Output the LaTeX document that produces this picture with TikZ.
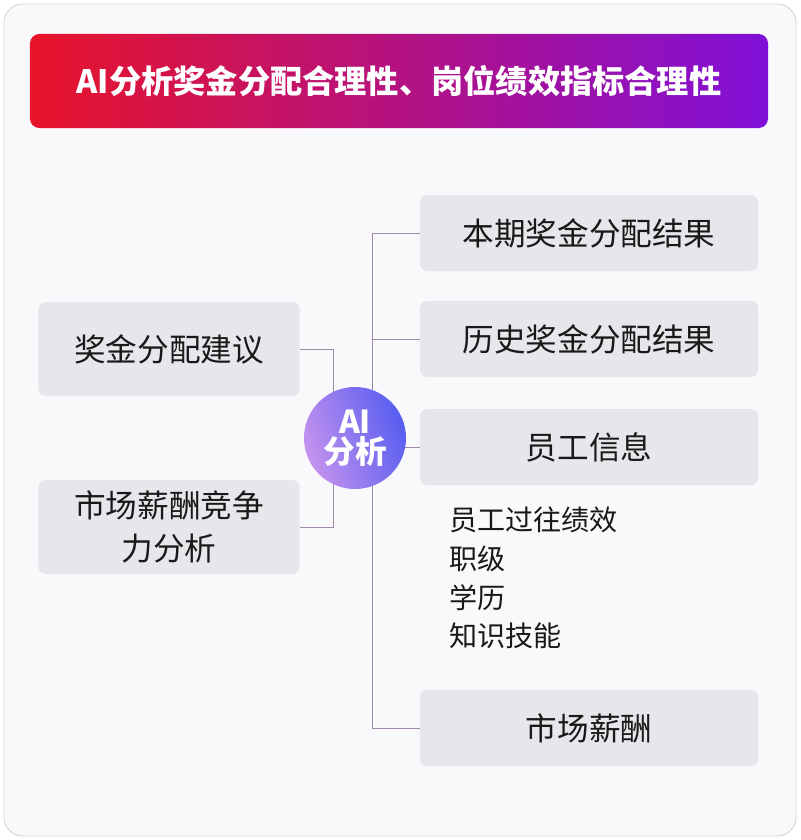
\documentclass[tikz,border=0pt]{standalone}
\usepackage{fontspec}
\setmainfont{Noto Sans CJK SC}
\usepackage{xcolor}
\usetikzlibrary{positioning, calc}

\definecolor{bgWhite}{HTML}{F9F9FC}
\definecolor{frameGray}{HTML}{D6D6DC}
\definecolor{boxGray}{HTML}{E6E7EB}
\definecolor{linkPurple}{HTML}{A08AAE}
\definecolor{titleRed}{HTML}{E8142A}
\definecolor{titleMag}{HTML}{D4148C}
\definecolor{titlePurple}{HTML}{8010D8}
\definecolor{aiLight}{HTML}{C492EE}
\definecolor{aiDark}{HTML}{575EF0}

\begin{document}
\begin{tikzpicture}[
    x=0.03cm, y=-0.03cm,
    frame/.style={draw=frameGray, line width=0.8pt, fill=bgWhite, rounded corners=16pt},
    banner/.style={
        rectangle, rounded corners=8pt,
        left color=titleRed, middle color=titleMag, right color=titlePurple,
        minimum width=22.14cm, minimum height=2.82cm,
        font=\fontsize{27.5}{32}\selectfont\bfseries, text=white,
    },
    box/.style={
        rectangle, fill=boxGray, rounded corners=6pt,
        align=center, text=black!90,
        font=\fontsize{27}{37}\selectfont,
    },
    rbox/.style={box, minimum width=10.14cm, minimum height=2.28cm},
    lbox/.style={box, minimum width=7.83cm, minimum height=2.82cm},
    hub/.style={
        circle, minimum size=3.06cm, inner sep=0pt,
        left color=aiLight, right color=aiDark, shading angle=110,
        align=center, text=white,
        font=\fontsize{27}{31}\selectfont\bfseries,
    },
    link/.style={draw=linkPurple, line width=0.7pt},
    lbl/.style={align=left, text=black!90, font=\fontsize{24}{33}\selectfont},
]

\useasboundingbox (0,0) rectangle (800,840);

% FRAME + TITLE
\draw[frame] (4,4) rectangle (796,836);
\node[banner] (title) at (399,81) {AI分析奖金分配合理性、岗位绩效指标合理性};

% RIGHT COLUMN
\node[rbox] (res_now) at (589,233) {本期奖金分配结果};
\node[rbox] (res_hist) at (589,339) {历史奖金分配结果};
\node[rbox] (emp) at (589,447) {员工信息};
\node[lbl, anchor=west] (emp_detail) at (445,578) {员工过往绩效\\职级\\学历\\知识技能};
\node[rbox] (mkt_pay) at (589,728) {市场薪酬};

% LEFT COLUMN
\node[lbox] (advice) at (169,349) {奖金分配建议};
\node[lbox] (compete) at (169,527) {市场薪酬竞争\\力分析};

% CONNECTORS
\coordinate (trunk) at (372,0);
\coordinate (bracket) at (333,0);
\draw[link] (res_now.west) -| (trunk |- mkt_pay.west) -- (mkt_pay.west);
\draw[link] (res_hist.west) -- (trunk |- res_hist.west);
\draw[link] (emp.west) -- (trunk |- emp.west);
\draw[link] (advice.east) -| (bracket |- compete.east) -- (compete.east);

% AI HUB
\node[hub] (ai) at (355,438) {AI\\[-5pt]分析};

\end{tikzpicture}
\end{document}
